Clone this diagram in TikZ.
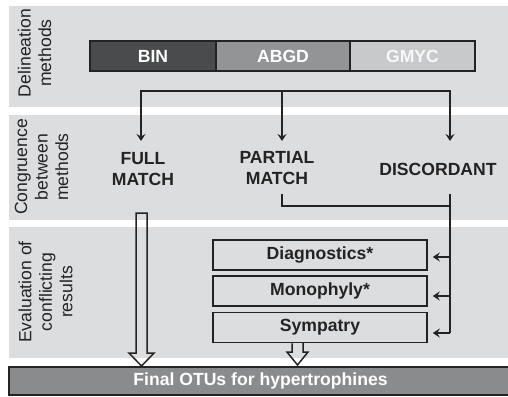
\documentclass[tikz,border=0pt]{standalone}
\usepackage{fontspec}
\setmainfont{Liberation Sans}
\usetikzlibrary{arrows.meta,calc}
\definecolor{band}{HTML}{DCDDDF}
\definecolor{bincol}{HTML}{4A4B4D}
\definecolor{abgdcol}{HTML}{939496}
\definecolor{gmyccol}{HTML}{C8C9CA}
\definecolor{finalcol}{HTML}{8A8B8D}
\definecolor{ink}{HTML}{232323}
\tikzset{
  lbl/.style={rotate=90,align=center,font=\fontsize{17.6}{20.5}\selectfont,text=ink,inner sep=0pt},
  meth/.style={draw=ink,line width=1.5pt,minimum height=30pt,inner sep=0pt,font=\fontsize{17.6}{19}\selectfont\bfseries},
  cong/.style={align=center,font=\fontsize{17.6}{21}\selectfont\bfseries,text=ink,inner sep=0pt},
  evalbox/.style={draw=ink,line width=1.5pt,minimum width=214pt,minimum height=30pt,inner sep=0pt,font=\fontsize{17.6}{19}\selectfont\bfseries,text=ink},
  conn/.style={draw=ink,line width=1.5pt},
  arr/.style={conn,-{Stealth[length=7pt,width=9pt,inset=2.5pt]}},
  hollow/.style={draw=ink,line width=1.5pt,line join=miter}
}
\begin{document}
\begin{tikzpicture}[x=1pt,y=-1pt]
\useasboundingbox (0,0) rectangle (508,396);
% bands
\fill[band] (9,6) rectangle (508,107);
\fill[band] (9,115) rectangle (508,220);
\fill[band] (9,227) rectangle (508,358);
% band labels
\node[lbl] (l1) at (34.5,53) {Delineation\\methods};
\node[lbl] (l2) at (41.5,167) {Congruence\\between\\methods};
\node[lbl] (l3) at (45.5,292) {Evaluation of\\conflicting\\results};
% methods
\node[meth,fill=bincol,text=white,minimum width=126pt] (bin) at (153,56) {BIN};
\node[meth,fill=abgdcol,text=white,minimum width=134pt] (abgd) at (283,56) {ABGD};
\node[meth,fill=gmyccol,text=white!95!gray,minimum width=125pt] (gmyc) at (412.5,56) {GMYC};
% congruence
\node[cong] (full) at (143,169) {FULL\\MATCH};
\node[cong] (partial) at (277,168) {PARTIAL\\MATCH};
\node[cong] (disc) at (438,169.5) {DISCORDANT};
% top bracket
\coordinate (hl) at (141,91);
\coordinate (hm) at (282,91);
\coordinate (hr) at (450,91);
\draw[conn,line cap=rect] (hl) -- (hr);
\draw[arr] (hl) -- (141,141);
\draw[arr] (hm) -- (282,141);
\draw[arr] (hr) -- (450,141);
% evaluation boxes
\node[evalbox] (diag) at (320,255) {Diagnostics*};
\node[evalbox] (mono) at (320,291) {Monophyly*};
\node[evalbox] (symp) at (320,327.5) {Sympatry};
% partial + discordant lines
\coordinate (pt) at (282,194);
\coordinate (pc) at (282,206);
\coordinate (dt) at (450,194);
\coordinate (dc) at (450,206);
\coordinate (db) at (450,333);
\draw[conn] (pt) -- (pc) -- (dc);
\draw[conn] (dt) -- (db);
\draw[arr] (450,257) -- ($(diag.east)+(5,2)$);
\draw[arr] (450,296) -- ($(mono.east)+(5,5)$);
\draw[arr] (db) -- ($(symp.east)+(5,5.5)$);
% final bar
\node[draw=ink,line width=1.5pt,fill=finalcol,
  minimum height=28pt,minimum width=505pt,inner sep=0pt] (final) at (261.5,381) {};
\node[text=white,font=\fontsize{17.6}{19}\selectfont\bfseries,inner sep=0pt] (finaltext) at (260.5,381) {Final OTUs for hypertrophines};
% hollow arrows
\draw[hollow] (136,213) -- (147,213) -- (147,353) -- (154,353) -- (141.5,366) -- (129,353) -- (136,353) -- cycle;
\draw[hollow] (symp.south -| 292,0) -- (292,352) -- (287,352) -- (297.5,365) -- (308,352) -- (303,352) -- (303,342.5);
\end{tikzpicture}
\end{document}
